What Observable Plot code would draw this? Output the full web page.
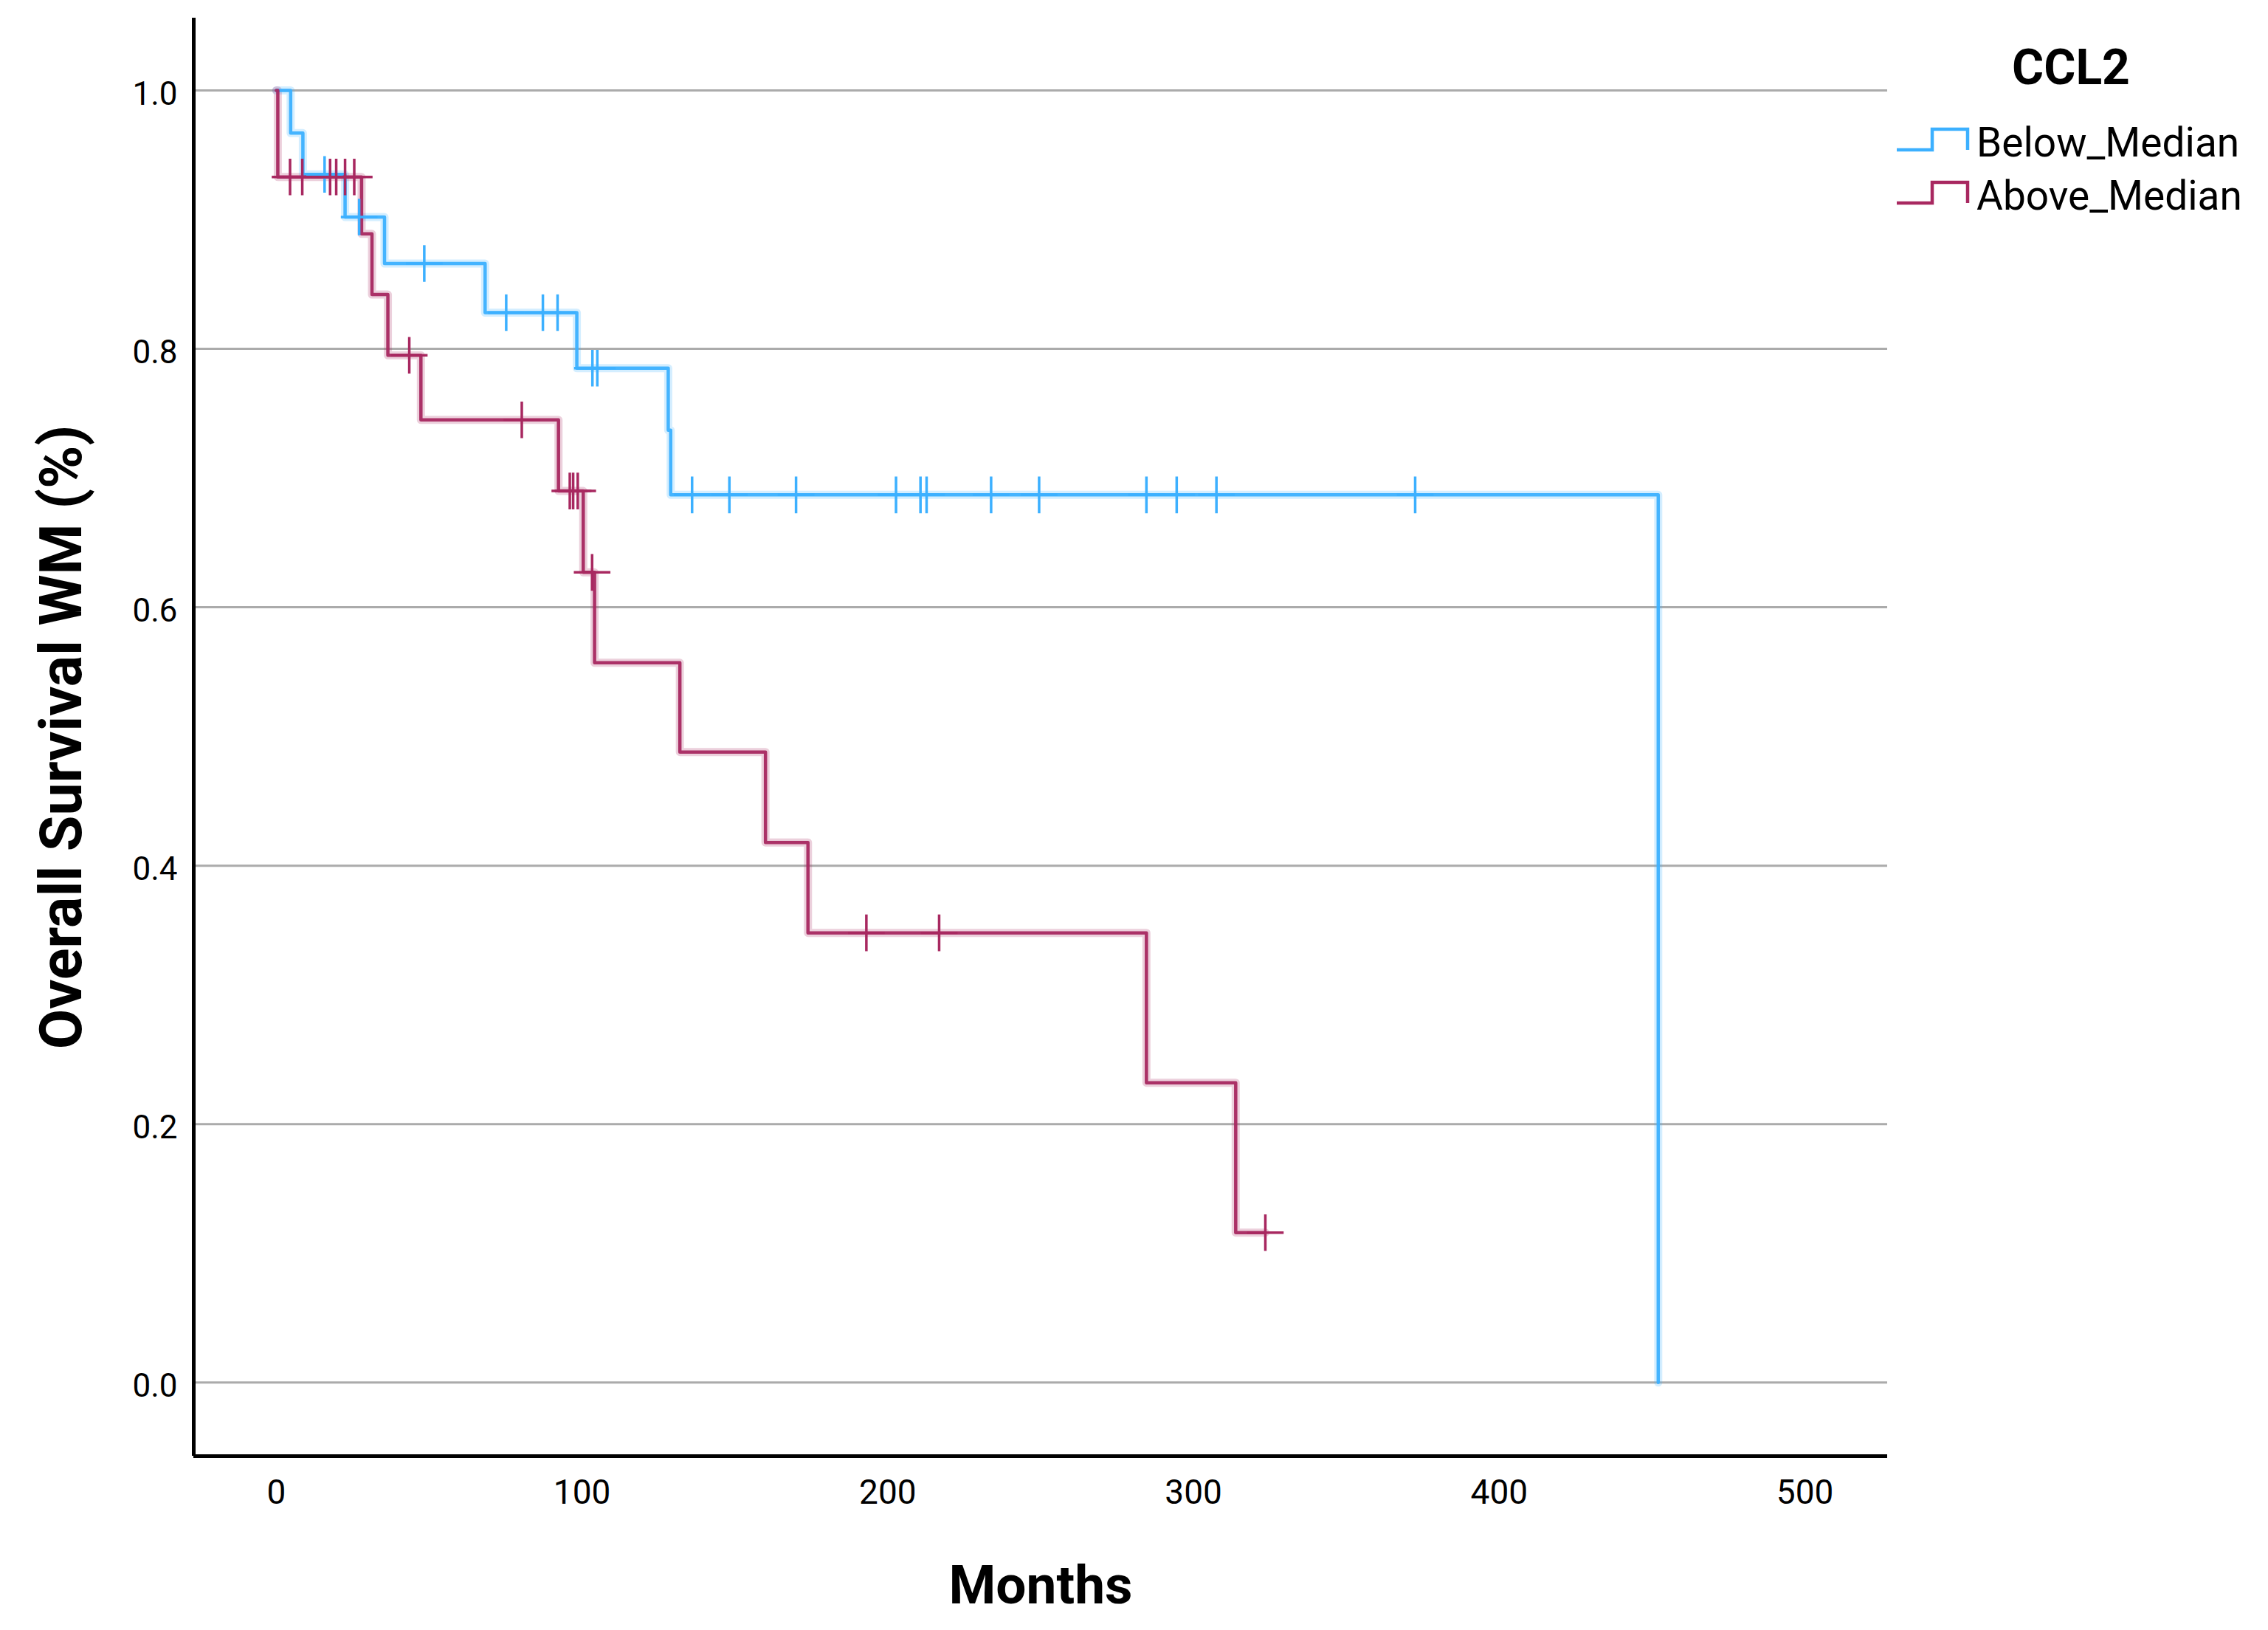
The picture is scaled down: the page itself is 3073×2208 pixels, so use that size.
<!DOCTYPE html>
<html>
<head>
<meta charset="utf-8">
<script src="https://cdn.jsdelivr.net/npm/d3@7"></script>
<script src="https://cdn.jsdelivr.net/npm/@observablehq/plot@0.6"></script>
<style>
  html, body { margin: 0; padding: 0; background: #fff; }
  #wrap { position: relative; width: 3073px; height: 2208px; font-family: Roboto, "Noto Sans", sans-serif; }
  #legend { position: absolute; left: 0; top: 0; width: 3073px; height: 400px; pointer-events: none; }
</style>
</head>
<body>
<div id="wrap"></div>
<script>
// ---- Data ----
const groups = ["Below_Median", "Above_Median"];
const groupColors = ["#3cb0ff", "#a82860"];
const legendTitle = "CCL2";
const xLabel = "Months";
const yLabel = "Overall Survival WM (%)";
const xTicks = [0, 100, 200, 300, 400, 500];
const yTicks = [0, 0.2, 0.4, 0.6, 0.8, 1.0];
const xDomain = [-27, 527];
const yDomain = [-0.057, 1.056];

// Below_Median: event times (months) and survival after each event
const belowEventTimes = [0, 4.7, 8.7, 22.5, 35.4, 68.3, 98.3, 128.2, 129, 452];
const belowSurvival   = [1, 0.967, 0.935, 0.902, 0.866, 0.828, 0.785, 0.737, 0.687, 0];
const belowCensorTimes = [15.8, 27.1, 48.4, 75.2, 87.2, 92, 103.4, 105, 136, 148.2, 170,
  202.7, 210.7, 212.7, 233.8, 249.5, 284.6, 294.5, 307.5, 372.5];

// Above_Median
const aboveEventTimes = [0, 0.5, 27.9, 31.3, 36.5, 47.3, 92.3, 100.4, 104.1, 132, 160, 173.9, 284.6, 313.8];
const aboveSurvival   = [1, 0.933, 0.889, 0.842, 0.795, 0.745, 0.690, 0.627, 0.557, 0.488, 0.418, 0.348, 0.232, 0.116];
const aboveCensorTimes = [4.5, 8.5, 17.6, 19.6, 22.5, 25.5, 43.5, 80.3, 96, 97.1, 98.6, 103.3, 193, 216.8, 323.5];

// ---- Build tables ----
function survAt(times, surv, t) {
  let s = surv[0];
  for (let i = 0; i < times.length; i++) if (times[i] <= t) s = surv[i];
  return s;
}
function curve(group, times, surv, censors) {
  const pts = times.map((t, i) => ({group, time: t, surv: surv[i]}));
  const lastC = d3.max(censors);
  if (lastC > times[times.length - 1]) pts.push({group, time: lastC, surv: surv[surv.length - 1]});
  return pts;
}
function censorPts(group, times, surv, censors) {
  return censors.map(t => ({group, time: t, surv: survAt(times, surv, t)}));
}
const steps = [
  ...curve(groups[0], belowEventTimes, belowSurvival, belowCensorTimes),
  ...curve(groups[1], aboveEventTimes, aboveSurvival, aboveCensorTimes)
];
const censored = [
  ...censorPts(groups[0], belowEventTimes, belowSurvival, belowCensorTimes),
  ...censorPts(groups[1], aboveEventTimes, aboveSurvival, aboveCensorTimes)
];

const chart = Plot.plot({
  width: 3073,
  height: 2208,
  marginLeft: 262,
  marginRight: 516,
  marginTop: 24,
  marginBottom: 236,
  style: {fontFamily: "Roboto, 'Noto Sans', sans-serif", color: "#000", background: "#fff"},
  x: {domain: xDomain},
  y: {domain: yDomain},
  color: {domain: groups, range: groupColors},
  marks: [
    Plot.gridY(yTicks, {stroke: "#ababab", strokeOpacity: 1, strokeWidth: 3}),
    Plot.line(steps, {x: "time", y: "surv", z: "group", stroke: "group", curve: "step-after", strokeWidth: 11, strokeOpacity: 0.22}),
    Plot.line(steps, {x: "time", y: "surv", z: "group", stroke: "group", curve: "step-after", strokeWidth: 4.5, strokeOpacity: 0.95}),
    Plot.dot(censored, {x: "time", y: "surv", stroke: "group", symbol: "plus", r: 16, strokeWidth: 3.5}),
    Plot.ruleX([xDomain[0]], {stroke: "#000", strokeWidth: 5}),
    Plot.ruleY([yDomain[0]], {stroke: "#000", strokeWidth: 5}),
    Plot.axisY(yTicks, {tickSize: 0, tickPadding: 22, fontSize: 44, dy: 5, tickFormat: d3.format(".1f"), label: null}),
    Plot.axisX(xTicks, {tickSize: 0, tickPadding: 32, fontSize: 46, label: null}),
    Plot.text([yLabel], {frameAnchor: "left", dx: -178, rotate: -90, fontSize: 79, fontWeight: "bold", textAnchor: "middle", lineAnchor: "middle"}),
    Plot.text([xLabel], {frameAnchor: "bottom", dy: 176, fontSize: 73, fontWeight: "bold", textAnchor: "middle", lineAnchor: "middle"})
  ]
});
const wrap = document.getElementById("wrap");
wrap.appendChild(chart);

// ---- Legend (outside the plot frame, to the right) ----
const ns = "http://www.w3.org/2000/svg";
const leg = document.createElementNS(ns, "svg");
leg.setAttribute("id", "legend");
leg.setAttribute("width", 3073);
leg.setAttribute("height", 400);
const title = document.createElementNS(ns, "text");
title.setAttribute("x", 2806);
title.setAttribute("y", 91);
title.setAttribute("text-anchor", "middle");
title.setAttribute("dominant-baseline", "central");
title.setAttribute("font-size", 66);
title.setAttribute("font-weight", "bold");
title.setAttribute("font-family", "Roboto, sans-serif");
title.textContent = legendTitle;
leg.appendChild(title);
groups.forEach((g, i) => {
  const yb = 203 + i * 72; // baseline of step symbol
  const path = document.createElementNS(ns, "path");
  path.setAttribute("d", `M2570,${yb} H2618 V${yb - 28} H2666 V${yb}`);
  path.setAttribute("fill", "none");
  path.setAttribute("stroke", groupColors[i]);
  path.setAttribute("stroke-width", 4.5);
  leg.appendChild(path);
  const t = document.createElementNS(ns, "text");
  t.setAttribute("x", 2678);
  t.setAttribute("y", yb - 10);
  t.setAttribute("dominant-baseline", "central");
  t.setAttribute("font-size", 55);
  t.setAttribute("font-family", "Roboto, sans-serif");
  t.textContent = g;
  leg.appendChild(t);
});
wrap.appendChild(leg);
</script>
</body>
</html>
